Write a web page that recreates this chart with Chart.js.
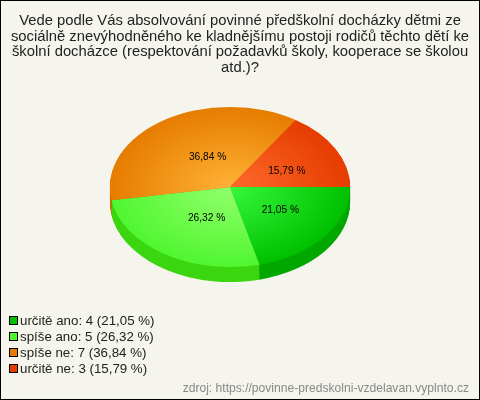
<!DOCTYPE html>
<html lang="cs">
<head>
    <meta charset="UTF-8">
    <title>Předškolní docházka</title>
    <script src="https://cdn.jsdelivr.net/npm/chart.js"></script>
    <style>
        html, body { margin: 0; padding: 0; background: #f5f5ed; }
        canvas { display: block; }
    </style>
</head>
<body>
    <canvas id="graf" width="480" height="400"></canvas>

    <script>
        const nadpis = [
            "Vede podle Vás absolvování povinné předškolní docházky dětmi ze",
            "sociálně znevýhodněného ke kladnějšímu postoji rodičů těchto dětí ke",
            "školní docházce (respektování požadavků školy, kooperace se školou",
            "atd.)?"
        ];
        const kategorie = ["určitě ano", "spíše ano", "spíše ne", "určitě ne"];
        const hodnoty = [4, 5, 7, 3];
        const procenta = ["21,05 %", "26,32 %", "36,84 %", "15,79 %"];
        const zdroj = "zdroj: https://povinne-predskolni-vzdelavan.vyplnto.cz";

        const barvyStred = ["#36f83c", "#92ff6c", "#ffb236", "#ff6a2c"];
        const barvyOkraj = ["#00c000", "#50f630", "#e67c00", "#e63c00"];
        const barvyBok = ["#00a800", "#3cd610", "#c86a00", "#c83400"];

        // posun popisku oproti polovine polomeru
        const posunPopisku = [[3, -1.5], [9.5, -2.5], [10.5, 4], [4, 3]];

        const stredX = 230, stredY = 187, polomer = 120;
        const zplosteni = 2 / 3, hloubka = 15;

        function prechod(context, i) {
            const area = context.chart.chartArea;
            if (!area) return barvyOkraj[i];
            const x = (area.left + area.right) / 2;
            const y = (area.top + area.bottom) / 2;
            const g = context.chart.ctx.createRadialGradient(x, y, 0, x, y, polomer);
            g.addColorStop(0, barvyStred[i]);
            g.addColorStop(1, barvyOkraj[i]);
            return g;
        }

        // naklopeni kolace + bocni stena
        const naklon = {
            id: 'naklon',
            beforeDraw(chart) {
                const c = chart.ctx;
                c.save();
                c.fillStyle = '#f5f5ed';
                c.fillRect(0, 0, 480, 400);
                c.restore();
            },
            beforeDatasetsDraw(chart) {
                const c = chart.ctx;
                const oblouky = chart.getDatasetMeta(0).data;
                c.save();
                for (let d = hloubka; d > 0; d--) {
                    oblouky.forEach((a, i) => {
                        c.save();
                        c.translate(stredX, stredY + d);
                        c.scale(1, zplosteni);
                        c.fillStyle = barvyBok[i];
                        c.beginPath();
                        c.moveTo(0, 0);
                        c.arc(0, 0, a.outerRadius, a.startAngle, a.endAngle);
                        c.closePath();
                        c.fill();
                        c.restore();
                    });
                }
                const a0 = oblouky[0];
                c.translate(stredX, stredY);
                c.scale(1, zplosteni);
                c.translate(-a0.x, -a0.y);
            },
            afterDatasetsDraw(chart) {
                const c = chart.ctx;
                c.restore();

                // popisky vysecí
                c.save();
                c.font = '10.2px "Liberation Sans"';
                c.fillStyle = '#000';
                c.textAlign = 'center';
                c.textBaseline = 'middle';
                chart.getDatasetMeta(0).data.forEach((a, i) => {
                    const p = a.tooltipPosition();
                    const x = stredX + (p.x - a.x) + posunPopisku[i][0];
                    const y = stredY + (p.y - a.y) * zplosteni + posunPopisku[i][1];
                    c.fillText(procenta[i], x, y);
                });
                c.restore();
            },
            afterDraw(chart) {
                const c = chart.ctx;
                c.save();

                // legenda
                c.font = '13.3px "Liberation Sans"';
                c.textBaseline = 'alphabetic';
                kategorie.forEach((k, i) => {
                    const y = 315 + i * 16;
                    c.fillStyle = barvyOkraj[i];
                    c.fillRect(9.5, y + 1.5, 8, 8);
                    c.strokeStyle = '#000';
                    c.lineWidth = 1;
                    c.strokeRect(9.5, y + 1.5, 8, 8);
                    c.fillStyle = '#222';
                    c.fillText(k + ": " + hodnoty[i] + " (" + procenta[i] + ")", 20, y + 10);
                });

                // zdroj
                c.font = '12.1px "Liberation Sans"';
                c.fillStyle = '#888';
                c.textAlign = 'right';
                c.fillText(zdroj, 469, 392);

                // ramecek
                c.strokeStyle = '#000';
                c.strokeRect(0.5, 0.5, 479, 399);
                c.restore();
            }
        };

        new Chart(document.getElementById('graf'), {
            type: 'pie',
            data: {
                labels: kategorie,
                datasets: [{
                    data: hodnoty,
                    borderWidth: 0,
                    backgroundColor: (context) => prechod(context, context.dataIndex)
                }]
            },
            options: {
                responsive: false,
                animation: false,
                rotation: 90,
                layout: { padding: { bottom: 84 } },
                plugins: {
                    legend: { display: false },
                    tooltip: { enabled: false },
                    title: {
                        display: true,
                        text: nadpis,
                        color: '#222',
                        font: { family: '"Liberation Sans"', size: 14.8, weight: 'normal', lineHeight: 1.06 },
                        padding: { top: 13, bottom: 0 }
                    }
                }
            },
            plugins: [naklon]
        });
    </script>
</body>
</html>
